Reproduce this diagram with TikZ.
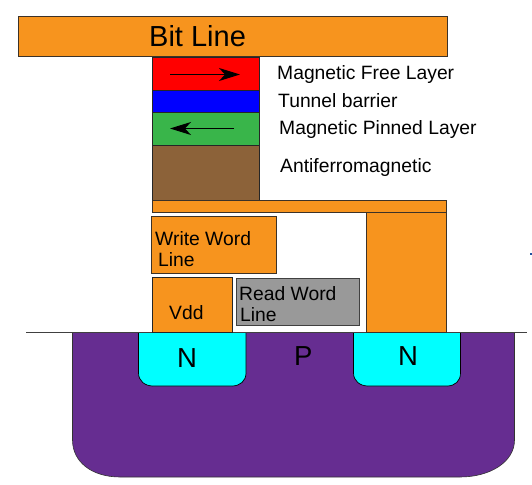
\documentclass[tikz,border=0pt]{standalone}
\usepackage{fontspec}
\setmainfont{Liberation Sans}
\usetikzlibrary{arrows.meta,positioning}
\definecolor{metal}{RGB}{247,148,30}
\definecolor{brownlayer}{RGB}{140,98,57}
\definecolor{greenlayer}{RGB}{57,181,74}
\definecolor{purplesub}{RGB}{102,45,145}
\definecolor{greybox}{RGB}{153,153,153}
\definecolor{edgecol}{RGB}{60,50,40}
\definecolor{wellcol}{RGB}{0,255,255}
\definecolor{redlayer}{RGB}{255,0,0}
\definecolor{bluelayer}{RGB}{0,0,255}
\definecolor{speck}{RGB}{30,80,160}
\tikzset{
  block/.style={draw=edgecol,line width=0.8pt,fill=metal},
  layer/.style={draw=black!85,line width=0.9pt},
  lab/.style={inner sep=0pt,anchor=base west,font=\fontsize{19.3}{22}\selectfont,text=black},
  biglab/.style={lab,font=\fontsize{27.5}{30}\selectfont},
  magarrow/.style={line width=1.4pt,-{Stealth[length=21pt,width=13pt,inset=6pt]}},
}
\newcommand{\boxat}[6]{\node[#1,inner sep=0pt,outer sep=0pt,minimum width=#4pt-#3pt,minimum height=#6pt-#5pt,anchor=north west] (#2) at (#3,#5) {};}
\begin{document}
\begin{tikzpicture}[x=1pt,y=-1pt]
\useasboundingbox (0,0) rectangle (532,484);
% substrate
\path[fill=purplesub,draw=black!80,line width=0.6pt]
  (72.5,332.5) -- (72.5,440) .. controls (72.5,462) and (92,477) .. (120,477)
  -- (460,477) .. controls (490,477) and (514.5,462) .. (514.5,440) -- (514.5,332.5) -- cycle;
% wells
\path[fill=wellcol,draw=black,line width=0.7pt]
  (138.5,332.5) -- (138.5,373) .. controls (138.5,381) and (145,386) .. (153,386)
  -- (232,386) .. controls (240,386) and (246,381) .. (246,373) -- (246,332.5) -- cycle;
\path[fill=wellcol,draw=black,line width=0.7pt]
  (353.5,332.5) -- (353.5,373) .. controls (353.5,381) and (360,386) .. (368,386)
  -- (447,386) .. controls (455,386) and (460.5,381) .. (460.5,373) -- (460.5,332.5) -- cycle;
% surface line
\coordinate (surfL) at (26,332.5);
\coordinate (surfR) at (527,332.5);
\draw[draw=black!75,line width=0.7pt] (surfL) -- (surfR);
% blocks
\boxat{block}{bit}{18}{447}{16.5}{56}
\boxat{layer,fill=redlayer}{free}{152}{259}{57}{90.5}
\boxat{layer,fill=bluelayer}{barrier}{152}{259}{90.5}{112}
\boxat{layer,fill=greenlayer}{pinned}{152}{259}{112}{145}
\boxat{layer,fill=brownlayer}{afm}{152}{259}{145}{200}
\boxat{block}{strap}{152}{446.5}{200}{212}
\boxat{block}{pillar}{366}{446.5}{212}{332.5}
\boxat{block}{wwl}{151}{276.5}{216}{273.5}
\boxat{block,draw=black!85}{vdd}{152}{232}{277.5}{332.5}
\boxat{draw=black!75,line width=0.9pt,fill=greybox}{rwl}{236.5}{359.5}{278}{325.5}
% arrows
\coordinate (fa) at (170,74.5); \coordinate (fb) at (240,74.5);
\coordinate (pa) at (234,128.5); \coordinate (pb) at (170,128.5);
\draw[magarrow] (fa) -- (fb);
\draw[magarrow] (pa) -- (pb);
% labels
\node[lab,font=\fontsize{29}{32}\selectfont] (tbit) at (149,46.5) {Bit Line};
\node[lab] (tfree) at (277,80) {Magnetic Free Layer};
\node[lab] (tbar) at (278,107) {Tunnel barrier};
\node[lab] (tpin) at (279,135) {Magnetic Pinned Layer};
\node[lab] (tafm) at (280,172) {Antiferromagnetic};
\node[lab] (twwl1) at (155,245) {Write Word};
\node[lab] (twwl2) at (158,266) {Line};
\node[lab] (tvdd) at (169,319) {Vdd};
\node[lab] (trwl1) at (239,300.5) {Read Word};
\node[lab] (trwl2) at (240,321) {Line};
\node[biglab] (tn1) at (177,367) {N};
\node[biglab] (tp) at (294,365) {P};
\node[biglab] (tn2) at (398,365) {N};
% stray mark at the right edge
\fill[speck] (530,253.2) rectangle (532,255);
\end{tikzpicture}
\end{document}
